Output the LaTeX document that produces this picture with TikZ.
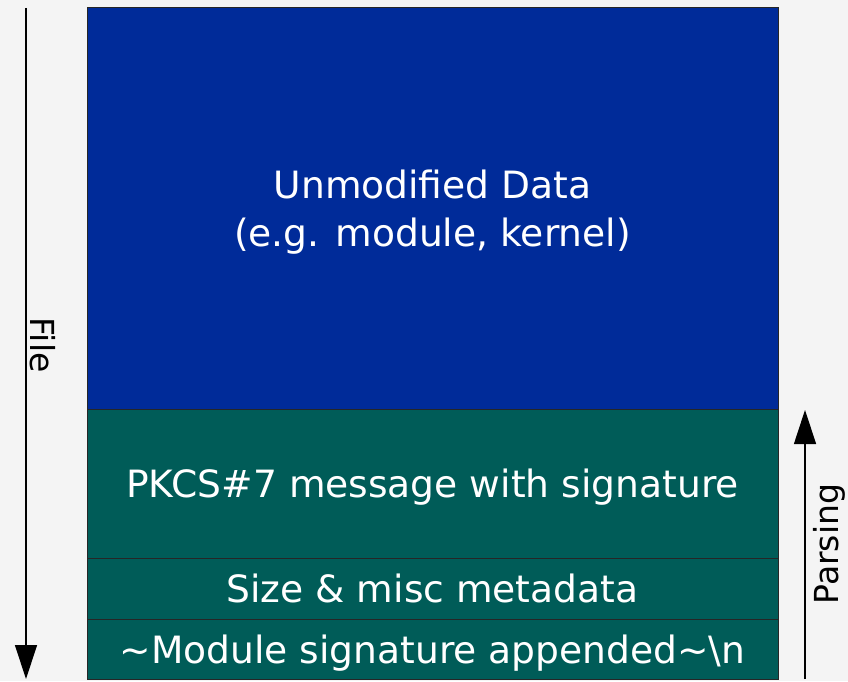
\documentclass[tikz,border=0pt]{standalone}
\usepackage{fontspec}
\setmainfont{DejaVu Sans}
\usetikzlibrary{positioning, arrows.meta}
\definecolor{bgcol}{RGB}{244,244,244}
\definecolor{rawdata}{RGB}{0,43,153}
\definecolor{sigpart}{RGB}{0,92,88}
\tikzset{
    block/.style={rectangle, draw=black!85, line width=0.75pt, minimum width=518.25pt, inner sep=0pt, outer sep=0pt, text depth=0pt, text=white, align=center, font=\fontsize{28.2}{36}\selectfont},
    datablock/.style={block, fill=rawdata},
    sigblock/.style={block, fill=sigpart},
    flow/.style={line width=0.9pt, -{Triangle[width=16.5pt, length=25.5pt]}},
    side/.style={font=\fontsize{24.8}{28}\selectfont, inner sep=0pt}
}

\begin{document}
\begin{tikzpicture}[x=0.75pt, y=-0.75pt]
        \useasboundingbox[fill=bgcol] (0,0) rectangle (848,681);

        % File sections, stacked top to bottom
        \node[datablock, minimum height=300.75pt, anchor=north west] (data) at (87,8) {Unmodified Data\\(e.g. module, kernel)};
        \node[sigblock, minimum height=111.75pt, below=0pt of data] (pkcs) {PKCS\#7 message with signature};
        \node[sigblock, minimum height=45.75pt, below=0pt of pkcs] (meta) {Size \& misc metadata};
        \node[sigblock, minimum height=45pt, below=0pt of meta] (magic) {\textasciitilde Module signature appended\textasciitilde\textbackslash n};

        % Direction arrows
        \coordinate (fileTop) at (26,8);
        \coordinate (fileEnd) at (26,679);
        \coordinate (parseStart) at (805,679);
        \coordinate (parseEnd) at (805,410);
        \draw[flow] (fileTop) -- (fileEnd);
        \draw[flow] (parseStart) -- (parseEnd);
        \node[side, rotate=-90] (fileLbl) at (43,345) {File};
        \node[side, rotate=90] (parseLbl) at (829,544) {Parsing};
    \end{tikzpicture}
\end{document}
